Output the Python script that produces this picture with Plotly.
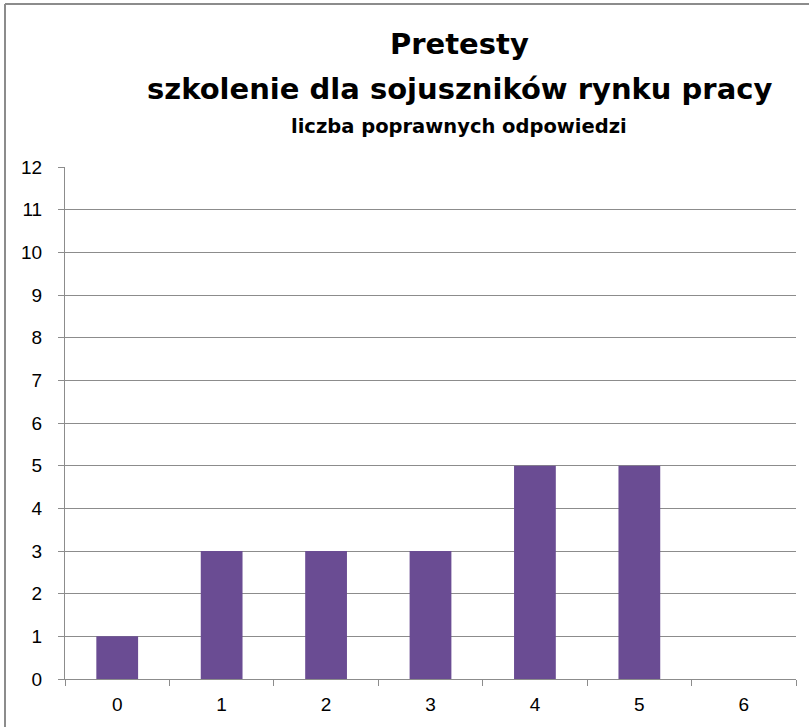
import plotly.graph_objects as go

categories = ["0", "1", "2", "3", "4", "5", "6"]
values = [1, 3, 3, 3, 5, 5, 0]
y_ticks = list(range(0, 13))

W, H = 809, 727
L, R, T, B = 65, 13, 167, 48
pw, ph = W - L - R, H - T - B

def px(x):
    return (x - L) / pw

def py(y):
    return 1 - (y - T) / ph

fig = go.Figure(go.Bar(
    x=categories, y=values,
    marker=dict(color="#6a4c93", line=dict(width=0)),
    width=0.4,
))

tick_font = "Liberation Sans Narrow, Arial Narrow, sans-serif"
title_font = "DejaVu Sans, Verdana, sans-serif"

fig.update_layout(
    width=W, height=H,
    margin=dict(l=L, r=R, t=T, b=B),
    paper_bgcolor="white", plot_bgcolor="white",
    showlegend=False,
    font=dict(family=tick_font, size=19, color="#000"),
    xaxis=dict(
        type="category", showgrid=False,
        showline=True, linecolor="#8c8c8c", linewidth=1,
        ticks="outside", ticklen=6, tickcolor="#8c8c8c",
        tickson="boundaries",
        tickfont=dict(size=19), ticklabelstandoff=8,
    ),
    yaxis=dict(
        range=[0, 12], tickvals=y_ticks,
        showgrid=True, gridcolor="#8c8c8c", gridwidth=1,
        showline=True, linecolor="#8c8c8c",
        ticks="outside", ticklen=6, tickcolor="#8c8c8c",
        tickfont=dict(size=19), zeroline=False, ticklabelstandoff=12,
    ),
    annotations=[
        dict(text="<b>Pretesty</b>", x=px(459), y=py(44), xref="paper", yref="paper",
             xanchor="center", yanchor="middle",
             showarrow=False, font=dict(size=29, family=title_font)),
        dict(text="<b>szkolenie dla sojuszników rynku pracy</b>", x=px(459), y=py(89),
             xref="paper", yref="paper", xanchor="center", yanchor="middle",
             showarrow=False, font=dict(size=29, family=title_font)),
        dict(text="<b>liczba poprawnych odpowiedzi</b>", x=px(459), y=py(126),
             xref="paper", yref="paper", xanchor="center", yanchor="middle",
             showarrow=False, font=dict(size=19.5, family=title_font)),
    ],
    shapes=[
        dict(type="line", xref="paper", yref="paper", x0=px(5), x1=px(809), y0=py(4), y1=py(4),
             line=dict(color="#8c8c8c", width=2)),
        dict(type="line", xref="paper", yref="paper", x0=px(5), x1=px(5), y0=py(4), y1=py(727),
             line=dict(color="#8c8c8c", width=2)),
    ],
)

fig.write_html("out.html", config={"displayModeBar": False},
               post_script="document.body.style.margin='0';")
